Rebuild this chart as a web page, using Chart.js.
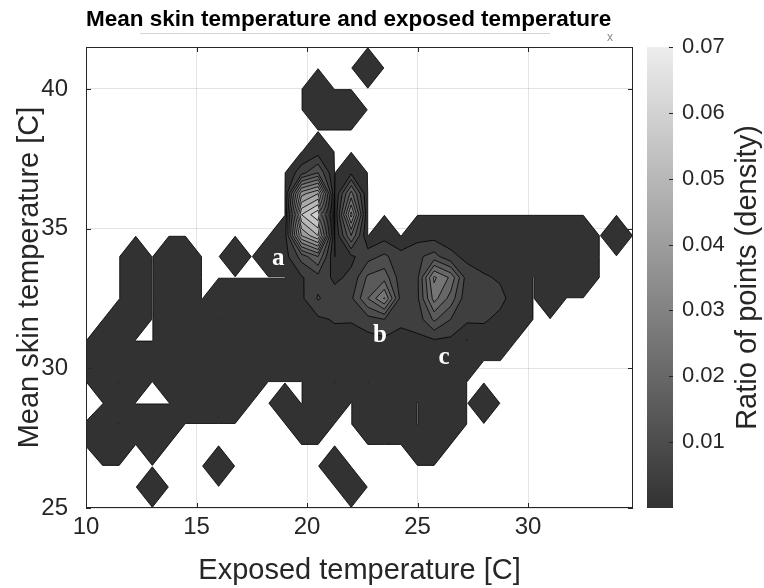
<!DOCTYPE html>
<html>
<head>
<meta charset="utf-8">
<title>Mean skin temperature and exposed temperature</title>
<script src="https://cdn.jsdelivr.net/npm/chart.js@4.4.1/dist/chart.umd.min.js"></script>
<style>
  html, body { margin: 0; padding: 0; background: #fff; }
  #chartBox { width: 764px; height: 588px; }
</style>
</head>
<body>
<div id="chartBox"><canvas id="chart" width="764" height="588"></canvas></div>
<script>
// grid nodes of the density map
const xGrid = [10, 10.75, 11.5, 12.25, 13, 13.75, 14.5, 15.25, 16, 16.75, 17.5, 18.25, 19, 19.75, 20.5, 21.25, 22,
  22.75, 23.5, 24.25, 25, 25.75, 26.5, 27.25, 28, 28.75, 29.5, 30.25, 31, 31.75, 32.5, 33.25, 34, 34.75];
const yGrid = [25, 25.75, 26.5, 27.25, 28, 28.75, 29.5, 30.25, 31, 31.75, 32.5, 33.25, 34, 34.75, 35.5, 36.25,
  37, 37.75, 38.5, 39.25, 40, 40.75, 41.5];

// ratio of points at each node, in thousandths; first row is y = 25
const densityPermille = [
  [0,0,0,0,0,0,0,0,0,0, 0,0,0,0,0,0,0,0,0,0, 0,0,0,0,0,0,0,0,0,0, 0,0,0,0],
  [0,0,0,0,3,0,0,0,0,0, 0,0,0,0,0,0,3,0,0,0, 0,0,0,0,0,0,0,0,0,0, 0,0,0,0],
  [0,0,0,0,0,0,0,0,3,0, 0,0,0,0,0,3,0,0,0,0, 0,0,0,0,0,0,0,0,0,0, 0,0,0,0],
  [0.106,3,3,0,3,0,0,0,0,0, 0,0,0,0,0,0,0,0,0,0, 3,3,0,0,0,0,0,0,0,0, 0,0,0,0],
  [0.116,3,0,3,3,3,0,0,0,0, 0,0,0,3,3,0,0,3,3,3, 0,3,3,0,0,0,0,0,0,0, 0,0,0,0],
  [0,0,3,0,0,0,3,3,3,3, 0,0,3,0,3,3,0,3,3,3, 0,3,3,0,3,0,0,0,0,0, 0,0,0,0],
  [0,3,0,3,0,3,3,3,3,3, 3,0,0,0,3,0,3,0,3,3, 3,3,3,0,0,0,0,0,0,0, 0,0,0,0],
  [3,3,3,3,3,3,3,3,3,3, 3,3,3,3,3,3,3,3,3,3, 3,3,3,3,0,0,0,0,0,0, 0,0,0,0],
  [0,3,3,0,0,3,3,3,3,3, 3,3,3,3,3,3,2.5,3,4,3.5, 4,4.5,4,0,3,3,0,0,0,0, 0,0,0,0],
  [0,0,3,3,0,3,3,3,0,3, 3,3,3,3,4,5.5,5.5,8,10,6, 7,16,10,6,5.5,4,3,0,0,0, 0,0,0,0],
  [0,0,0,3,0,3,3,0,3,3, 3,3,3,4,10.5,7,9,20,30.5,8, 9,27,18,6,6,6,3,0,3,0, 0,0,0,0],
  [0,0,0,3,0,3,3,0,0,0, 0,0,0,4.5,8,4,6,16,18,7, 9,31,24,7,5.5,4.5,3,0,3,3, 3,0,0,0],
  [0,0,0,3,0,3,3,0,0,3, 0,3,3,12,20,0,4,8,11,7, 9,12,6,4,3,3,3,3,3,3, 3,0,0,0],
  [0,0,0,0,0,0,0,0,0,0, 0,0,3,40,50,0,20,0,3,0, 3,3,3,3,3,3,3,3,3,3, 3,0,3,0],
  [0,0,0,0,0,0,0,0,0,0, 0,0,0,55,64,0,37,0,0,0, 0,0,0,0,0,0,0,0,0,0, 0,0,0,0],
  [0,0,0,0,0,0,0,0,0,0, 0,0,0,38,45,0,22,0,0,0, 0,0,0,0,0,0,0,0,0,0, 0,0,0,0],
  [0,0,0,0,0,0,0,0,0,0, 0,0,0,8,15,0,4,0,0,0, 0,0,0,0,0,0,0,0,0,0, 0,0,0,0],
  [0,0,0,0,0,0,0,0,0,0, 0,0,0,0,3,0,0,0,0,0, 0,0,0,0,0,0,0,0,0,0, 0,0,0,0],
  [0,0,0,0,0,0,0,0,0,0, 0,0,0,0,0,0,0,0,0,0, 0,0,0,0,0,0,0,0,0,0, 0,0,0,0],
  [0,0,0,0,0,0,0,0,0,0, 0,0,0,0,3,3,3,0,0,0, 0,0,0,0,0,0,0,0,0,0, 0,0,0,0],
  [0,0,0,0,0,0,0,0,0,0, 0,0,0,0,3,0,0,0,0,0, 0,0,0,0,0,0,0,0,0,0, 0,0,0,0],
  [0,0,0,0,0,0,0,0,0,0, 0,0,0,0,0,0,0,3,0,0, 0,0,0,0,0,0,0,0,0,0, 0,0,0,0],
  [0,0,0,0,0,0,0,0,0,0, 0,0,0,0,0,0,0,0,0,0, 0,0,0,0,0,0,0,0,0,0, 0,0,0,0]
];

// contour levels, thousandths
const contourLevels = [0.1, 5, 10, 15, 20, 25, 30, 35, 40, 45, 50, 55, 60, 65];

const xTicks = [10, 15, 20, 25, 30];
const yTicks = [25, 30, 35, 40];
const cbarTicks = [0.01, 0.02, 0.03, 0.04, 0.05, 0.06, 0.07];

const peakLabels = ['a', 'b', 'c'];
const peakLabelX = [18.7, 23.3, 26.2];
const peakLabelY = [33.94, 31.16, 30.38];

const FONT = '"Liberation Sans", Arial, Helvetica, sans-serif';
const AXIS = '#262626';
const CMAX = 70;

function shade(v) {
  const g = Math.round(50 + Math.max(0, Math.min(v, CMAX)) / CMAX * 187);
  return 'rgb(' + g + ',' + g + ',' + g + ')';
}

// marching squares for one cell: filled polygon above `level` and its contour segments
function cellContour(i, j, level) {
  const idx = [[i, j], [i + 1, j], [i + 1, j + 1], [i, j + 1]];
  const pts = [];
  const cross = [];
  for (let k = 0; k < 4; k++) {
    const [ai, aj] = idx[k];
    const [bi, bj] = idx[(k + 1) % 4];
    const va = densityPermille[aj][ai];
    const vb = densityPermille[bj][bi];
    const a = [xGrid[ai], yGrid[aj]];
    const b = [xGrid[bi], yGrid[bj]];
    if (va >= level) pts.push(a);
    if ((va >= level) !== (vb >= level)) {
      const t = (level - va) / (vb - va);
      const p = [a[0] + t * (b[0] - a[0]), a[1] + t * (b[1] - a[1])];
      pts.push(p);
      cross.push({ p, exit: va >= level });
    }
  }
  const segs = [];
  cross.forEach((c, m) => {
    if (c.exit) segs.push([c.p, cross[(m + 1) % cross.length].p]);
  });
  return { pts, segs };
}

// keep the plot box where the figure has it; labels may overhang
function fixBox(size) {
  return s => {
    Object.assign(s, size);
    s.paddingTop = 0;
    s.paddingBottom = 0;
    s.paddingLeft = 0;
    s.paddingRight = 0;
  };
}

const contourPlugin = {
  id: 'contourMap',
  beforeDatasetsDraw(chart) {
    const { ctx, chartArea: area, scales: { x, y } } = chart;
    const px = p => [x.getPixelForValue(p[0]), y.getPixelForValue(p[1])];
    ctx.save();
    ctx.beginPath();
    ctx.rect(area.left, area.top, area.width, area.height);
    ctx.clip();
    const lines = [];
    contourLevels.forEach(level => {
      ctx.beginPath();
      for (let j = 0; j < yGrid.length - 1; j++) {
        for (let i = 0; i < xGrid.length - 1; i++) {
          const { pts, segs } = cellContour(i, j, level);
          if (pts.length < 3) continue;
          pts.forEach((p, n) => {
            const [u, w] = px(p);
            if (n) ctx.lineTo(u, w); else ctx.moveTo(u, w);
          });
          ctx.closePath();
          segs.forEach(s => lines.push(s));
        }
      }
      ctx.fillStyle = shade(level);
      ctx.fill();
    });
    ctx.beginPath();
    lines.forEach(([p, q]) => {
      const a = px(p), b = px(q);
      ctx.moveTo(a[0], a[1]);
      ctx.lineTo(b[0], b[1]);
    });
    ctx.strokeStyle = '#000';
    ctx.lineWidth = 0.8;
    ctx.stroke();
    ctx.restore();
  },
  afterDraw(chart) {
    const { ctx, chartArea: a, scales: { x, y, cbar } } = chart;
    const line = (x1, y1, x2, y2) => { ctx.beginPath(); ctx.moveTo(x1, y1); ctx.lineTo(x2, y2); ctx.stroke(); };
    ctx.save();

    // peak markers
    ctx.fillStyle = '#fff';
    ctx.font = 'bold 25px "Liberation Serif", "Times New Roman", serif';
    ctx.textAlign = 'center';
    ctx.textBaseline = 'middle';
    peakLabels.forEach((t, k) => {
      ctx.fillText(t, x.getPixelForValue(peakLabelX[k]), y.getPixelForValue(peakLabelY[k]));
    });

    // axes box with inward ticks
    ctx.strokeStyle = AXIS;
    ctx.lineWidth = 1;
    ctx.strokeRect(Math.round(a.left) + 0.5, Math.round(a.top) + 0.5,
      Math.round(a.width) - 1, Math.round(a.height) - 1);
    xTicks.forEach(v => {
      const p = Math.round(x.getPixelForValue(v)) + 0.5;
      line(p, a.bottom, p, a.bottom - 5);
      line(p, a.top, p, a.top + 5);
    });
    yTicks.forEach(v => {
      const p = Math.round(y.getPixelForValue(v)) + 0.5;
      line(a.left, p, a.left + 5, p);
      line(a.right, p, a.right - 5, p);
    });

    // colour bar
    const barL = cbar.left + 14;
    const barW = 26;
    const top = Math.round(cbar.getPixelForValue(0.07));
    const bot = Math.round(cbar.getPixelForValue(0));
    for (let p = top; p < bot; p++) {
      ctx.fillStyle = shade(cbar.getValueForPixel(p + 0.5) * 1000);
      ctx.fillRect(barL, p, barW, 1);
    }
    ctx.strokeStyle = AXIS;
    cbarTicks.forEach(v => {
      const p = Math.round(cbar.getPixelForValue(v)) + 0.5;
      line(barL + barW - 4, p, barL + barW, p);
    });
    ctx.fillStyle = AXIS;
    ctx.font = '29px ' + FONT;
    ctx.translate(748, (cbar.top + cbar.bottom) / 2);
    ctx.rotate(-Math.PI / 2);
    ctx.fillText('Ratio of points (density)', 0, 0);
    ctx.restore();

    // faint marks left around the title in the source figure
    ctx.save();
    ctx.strokeStyle = '#d6d6d6';
    ctx.lineWidth = 1;
    line(140, 33.5, 550, 33.5);
    ctx.fillStyle = '#8a8a8a';
    ctx.font = '12px ' + FONT;
    ctx.fillText('x', 607, 41);
    ctx.restore();
  }
};

const gridColor = 'rgba(128,128,128,0.22)';

new Chart(document.getElementById('chart'), {
  type: 'scatter',
  data: { datasets: [] },
  plugins: [contourPlugin],
  options: {
    responsive: false,
    animation: false,
    layout: { padding: 0 },
    plugins: {
      legend: { display: false },
      tooltip: { enabled: false },
      title: {
        display: true,
        fullSize: false,
        align: 'start',
        text: 'Mean skin temperature and exposed temperature',
        color: '#000',
        font: { family: FONT, size: 22.5, weight: 'bold' },
        padding: { top: 6, bottom: 14 }
      }
    },
    scales: {
      x: {
        type: 'linear',
        position: 'bottom',
        min: 10,
        max: 34.75,
        z: 1,
        afterBuildTicks: s => { s.ticks = xTicks.map(v => ({ value: v })); },
        afterFit: fixBox({ height: 80 }),
        grid: { color: gridColor, drawTicks: false },
        border: { display: false },
        ticks: { autoSkip: false, maxRotation: 0, padding: 5, color: AXIS, font: { family: FONT, size: 24 } },
        title: { display: true, text: 'Exposed temperature [C]', color: AXIS,
          font: { family: FONT, size: 29 }, padding: { top: 0, bottom: 0 } }
      },
      y: {
        type: 'linear',
        position: 'left',
        min: 25,
        max: 41.5,
        z: 1,
        afterBuildTicks: s => { s.ticks = yTicks.map(v => ({ value: v })); },
        afterFit: fixBox({ width: 86 }),
        grid: { color: gridColor, drawTicks: false },
        border: { display: false },
        ticks: { autoSkip: false, padding: 18, color: AXIS, font: { family: FONT, size: 24 } },
        title: { display: true, text: 'Mean skin temperature [C]', color: AXIS,
          font: { family: FONT, size: 29 }, padding: { top: 13, bottom: 0 } }
      },
      cbar: {
        type: 'linear',
        position: 'right',
        min: 0,
        max: 0.07,
        afterBuildTicks: s => { s.ticks = cbarTicks.map(v => ({ value: v })); },
        afterFit: fixBox({ width: 131 }),
        grid: { display: false, drawTicks: false },
        border: { display: false },
        ticks: { padding: 49, color: AXIS, font: { family: FONT, size: 22 }, callback: v => v.toFixed(2) }
      }
    }
  }
});
</script>
</body>
</html>
